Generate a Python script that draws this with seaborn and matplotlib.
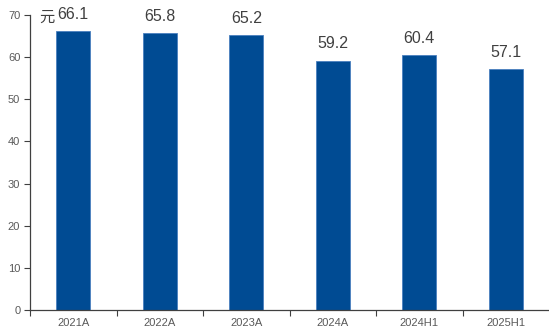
import matplotlib
matplotlib.use("Agg")
import matplotlib.pyplot as plt
import seaborn as sns
import pandas as pd
from matplotlib.ticker import MultipleLocator, FixedLocator, NullFormatter

categories = ["2021A", "2022A", "2023A", "2024A", "2024H1", "2025H1"]
values = [66.1, 65.8, 65.2, 59.2, 60.4, 57.1]
unit_label = "元"

sns.set_theme(style="white")
plt.rcParams['font.family'] = ['Liberation Sans', 'Noto Sans CJK SC', 'DejaVu Sans']

df = pd.DataFrame({"cat": categories, "val": values})

fig = plt.figure(figsize=(5.49, 3.35), dpi=100)
ax = fig.add_axes([30/549, 1 - 310/335, (549 - 30)/549, (310 - 15)/335])

sns.barplot(data=df, x="cat", y="val", color="#004B93", saturation=1,
            width=0.39, ax=ax, edgecolor="#4a7fbf", linewidth=0.6)

ax.set_xlim(-0.5, 5.5)
ax.set_ylim(0, 70)
ax.yaxis.set_major_locator(MultipleLocator(10))
ax.set_xlabel("")
ax.set_ylabel("")

for s in ["top", "right"]:
    ax.spines[s].set_visible(False)
for s in ["left", "bottom"]:
    ax.spines[s].set_color("#404040")
    ax.spines[s].set_linewidth(0.9)

ax.tick_params(axis="y", which="major", direction="out", length=4, width=0.8,
               color="#404040", labelsize=8, labelcolor="#595959", pad=3, left=True)
ax.tick_params(axis="x", which="major", length=0, labelsize=8,
               labelcolor="#595959", pad=6)
ax.xaxis.set_minor_locator(FixedLocator([i - 0.5 for i in range(len(categories))]))
ax.xaxis.set_minor_formatter(NullFormatter())
ax.tick_params(axis="x", which="minor", direction="out", length=4, width=0.8,
               color="#404040", bottom=True)

for i, v in enumerate(values):
    ax.annotate(f"{v:.1f}", (i, v), xytext=(0, 6.5), textcoords="offset points",
                ha="center", va="bottom", fontsize=11.5, color="#404040")

fig.text(47/549, 1 - 17/335, unit_label, ha="center", va="center", fontsize=11,
         color="#404040", family=['Noto Sans CJK SC', 'DejaVu Sans'])

fig.savefig("out.png", dpi=100)
